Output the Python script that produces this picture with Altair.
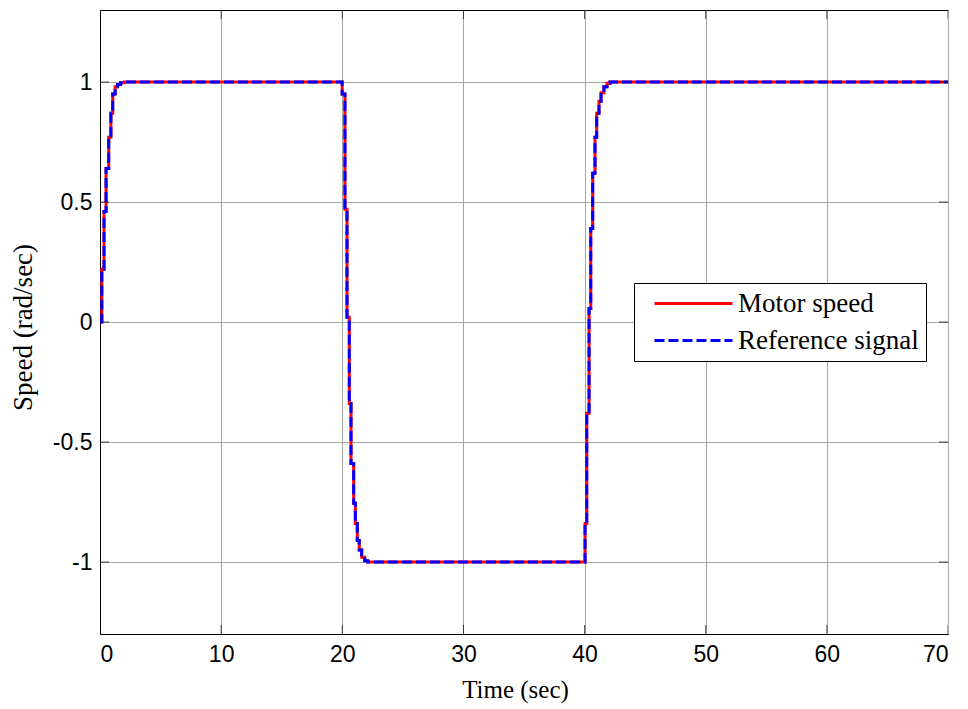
import altair as alt
import pandas as pd

# --- data (time in s, speed in rad/s) ---
t_vals = [0.0, 0.15, 0.33, 0.50, 0.72, 0.90, 1.05, 1.25, 1.45, 1.70, 2.00,
          19.99, 20.22, 20.39, 20.58, 20.72, 20.94, 21.08, 21.24, 21.40, 21.60, 21.85, 22.10,
          40.04, 40.18, 40.37, 40.51, 40.67, 40.86, 41.00, 41.19, 41.36, 41.60, 41.85, 42.10,
          70.0]
speed_vals = [0.0, 0.22, 0.46, 0.64, 0.77, 0.87, 0.95, 0.98, 0.99, 0.997, 1.0,
              0.95, 0.47, 0.02, -0.34, -0.59, -0.755, -0.84, -0.91, -0.95, -0.98, -0.995, -1.0,
              -0.84, -0.38, 0.056, 0.39, 0.62, 0.77, 0.87, 0.92, 0.955, 0.98, 0.995, 1.0,
              1.0]
series_names = ["Motor speed", "Reference signal"]
series_colors = ["#ff0000", "#0000ff"]
x_ticks = [0, 10, 20, 30, 40, 50, 60, 70]
y_ticks = [-1, -0.5, 0, 0.5, 1]

rows = []
for s in series_names:
    for t, v in zip(t_vals, speed_vals):
        rows.append({"t": t, "v": v, "series": s})
df = pd.DataFrame(rows)

W, H = 848, 624

xscale = alt.Scale(domain=[0, 70], nice=False, zero=False)
yscale = alt.Scale(domain=[-1.3, 1.3], nice=False, zero=False)

xaxis = alt.Axis(values=x_ticks, title="Time (sec)", ticks=False, tickSize=0,
                 labelPadding=9, labelFont="Liberation Sans", labelFontSize=23,
                 labelColor="black", titleFont="Liberation Serif", titleFontSize=25,
                 titleFontWeight="normal", titleColor="black", titleX=415, titleY=63,
                 titleBaseline="alphabetic", titleAlign="center",
                 grid=True, gridColor="#a6a6a6", gridWidth=1,
                 domainColor="black", domainWidth=1, labelExpr="toString(datum.value)")
yaxis = alt.Axis(values=y_ticks, title="Speed (rad/sec)", ticks=False, tickSize=0,
                 labelPadding=8, labelFont="Liberation Sans", labelFontSize=23,
                 labelColor="black", titleFont="Liberation Serif", titleFontSize=27,
                 titleFontWeight="normal", titleColor="black", titleX=-77, titleY=317,
                 titleBaseline="middle", titleAlign="center",
                 grid=True, gridColor="#a6a6a6", gridWidth=1,
                 domainColor="black", domainWidth=1, labelExpr="toString(datum.value)")

legend = alt.Legend(orient="none", legendX=534, legendY=273, title=None,
                    padding=7, strokeColor="black", fillColor="white", cornerRadius=0,
                    symbolType="M0,0H7.8", symbolSize=400, symbolStrokeWidth=3,
                    labelFont="Liberation Serif", labelFontSize=27, labelColor="black",
                    labelOffset=70, rowPadding=9, labelLimit=400)

lines = alt.Chart(df).mark_line(interpolate="step-after", strokeWidth=3).encode(
    x=alt.X("t:Q", scale=xscale, axis=xaxis),
    y=alt.Y("v:Q", scale=yscale, axis=yaxis),
    color=alt.Color("series:N", scale=alt.Scale(domain=series_names, range=series_colors), legend=legend),
    strokeDash=alt.StrokeDash("series:N", scale=alt.Scale(domain=series_names, range=[[1, 0], [10, 4]]), legend=legend),
)

xt = pd.DataFrame({"x": x_ticks})
yt = pd.DataFrame({"y": y_ticks})
tick_x_bottom = alt.Chart(xt).mark_tick(size=18, thickness=1, color="black", clip=True).encode(
    x=alt.X("x:Q", scale=xscale), y=alt.value(H))
tick_x_top = alt.Chart(xt).mark_tick(size=18, thickness=1, color="black", clip=True).encode(
    x=alt.X("x:Q", scale=xscale), y=alt.value(0))
tick_y_left = alt.Chart(yt).mark_tick(size=18, thickness=1, color="black", clip=True).encode(
    y=alt.Y("y:Q", scale=yscale), x=alt.value(0))
tick_y_right = alt.Chart(yt).mark_tick(size=18, thickness=1, color="black", clip=True).encode(
    y=alt.Y("y:Q", scale=yscale), x=alt.value(W))

chart = alt.layer(lines, tick_x_bottom, tick_x_top, tick_y_left, tick_y_right).properties(
    width=W, height=H,
    autosize=alt.AutoSizeParams(type="none"),
    padding={"left": 100, "top": 10, "right": 20, "bottom": 75},
    background="white",
).configure_view(stroke="black", strokeWidth=1)

chart.save("out.html", embed_options={"renderer": "svg", "actions": False})
